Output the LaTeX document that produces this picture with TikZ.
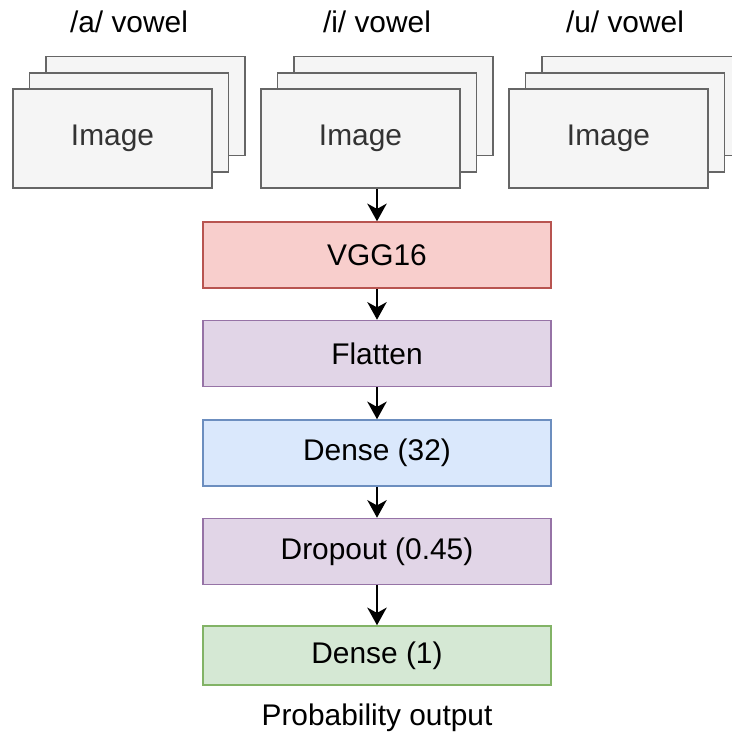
\documentclass[tikz,border=0pt]{standalone}
\usepackage{fontspec}
\setmainfont{Liberation Sans}
\usepackage{tikz}
\usetikzlibrary{positioning, arrows.meta}

\definecolor{imgfill}{HTML}{F5F5F5}
\definecolor{imgline}{HTML}{666666}
\definecolor{imgtext}{HTML}{333333}
\definecolor{redfill}{HTML}{F8CECC}
\definecolor{redline}{HTML}{B85450}
\definecolor{purplefill}{HTML}{E1D5E7}
\definecolor{purpleline}{HTML}{9673A6}
\definecolor{bluefill}{HTML}{DAE8FC}
\definecolor{blueline}{HTML}{6C8EBF}
\definecolor{greenfill}{HTML}{D5E8D4}
\definecolor{greenline}{HTML}{82B366}

\begin{document}
\begin{tikzpicture}[x=0.02cm, y=-0.02cm,
    every node/.style = {font=\fontsize{17}{20}\selectfont},
    imagebox/.style = {shape = rectangle, draw = imgline, fill = imgfill, line width = 0.9pt,
                       minimum width = 3.98cm, minimum height = 1.98cm, text = imgtext},
    layer/.style = {shape = rectangle, line width = 0.9pt, minimum width = 6.96cm, minimum height = 1.32cm},
    flow/.style = {line width = 1.4pt, -{Stealth[length = 10pt, width = 11pt, inset = 3pt]}}]
                    \useasboundingbox (0, 0) rectangle (732, 738);

                    % /a/ stack
                    \node [imagebox] (aback) at (145.5, 106) {};
                    \node [imagebox] (amid) at (129, 122.5) {};
                    \node [imagebox] (aimg) at (112.5, 138.5) {Image};
                    \node (alabel) at (129, 22) {/a/ vowel};

                    % /i/ stack
                    \node [imagebox] (iback) at (393.5, 106) {};
                    \node [imagebox] (imid) at (377, 122.5) {};
                    \node [imagebox] (iimg) at (360.5, 138.5) {Image};
                    \node (ilabel) at (377, 22) {/i/ vowel};

                    % /u/ stack
                    \node [imagebox] (uback) at (641.5, 106) {};
                    \node [imagebox] (umid) at (625, 122.5) {};
                    \node [imagebox] (uimg) at (608.5, 138.5) {Image};
                    \node (ulabel) at (625, 22) {/u/ vowel};

                    % model
                    \node [layer, draw = redline, fill = redfill] (vgg) at (377, 255) {VGG16};
                    \node [layer, draw = purpleline, fill = purplefill] (flatten) at (377, 353.5) {Flatten};
                    \node [layer, draw = blueline, fill = bluefill] (dense) at (377, 453) {Dense (32)};
                    \node [layer, draw = purpleline, fill = purplefill] (dropout) at (377, 551.5) {Dropout (0.45)};
                    \node [layer, draw = greenline, fill = greenfill, minimum height = 1.18cm] (out) at (377, 655.5) {Dense (1)};
                    \node (prob) at (377, 718) {Probability output};

                    \draw [flow] (imid |- iimg.south) -- (vgg);
                    \draw [flow] (vgg) -- (flatten);
                    \draw [flow] (flatten) -- (dense);
                    \draw [flow] (dense) -- (dropout);
                    \draw [flow] (dropout) -- (out);
\end{tikzpicture}
\end{document}
